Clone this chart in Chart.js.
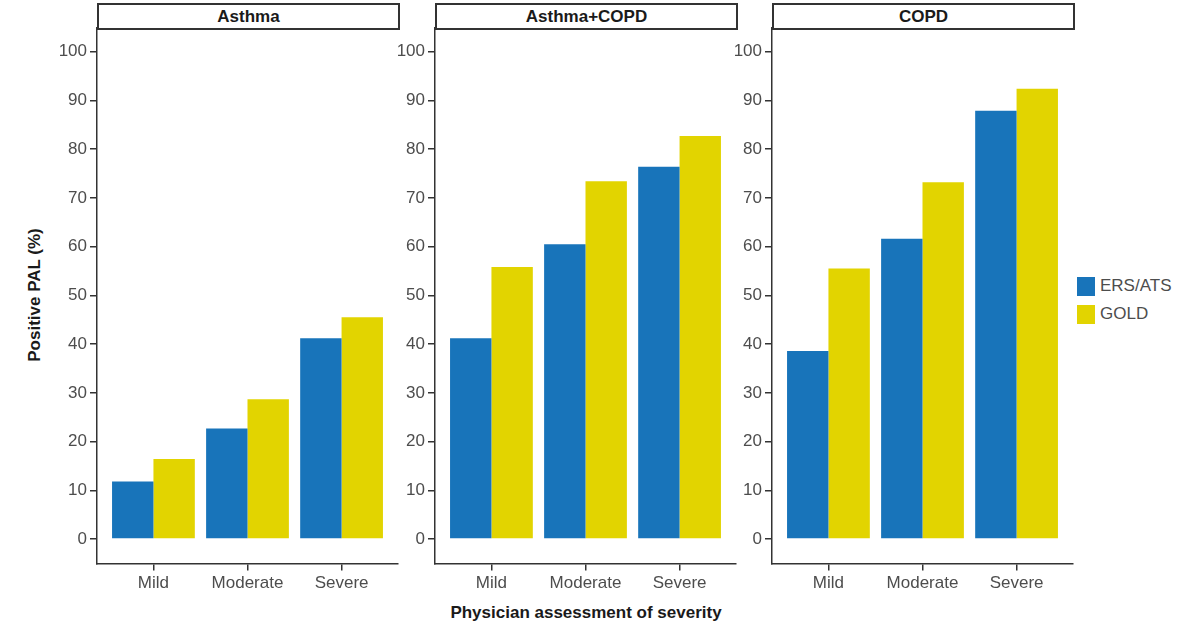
<!DOCTYPE html>
<html lang="en">
<head>
<meta charset="utf-8">
<title>Positive PAL by physician assessment of severity</title>
<script src="https://cdn.jsdelivr.net/npm/chart.js"></script>
<style>
    html, body { margin: 0; padding: 0; background: #fff; }
    body { width: 1200px; height: 628px; position: relative; overflow: hidden; font-family: "Liberation Sans", Arial, Helvetica, sans-serif; }
    canvas { position: absolute; top: 0; }
    .strip { position: absolute; top: 3px; height: 27px; box-sizing: border-box; border: 2px solid #333; background: #fff;
             font-weight: bold; font-size: 17px; color: #1a1a1a; text-align: center; line-height: 23px; }
    .ytitle { position: absolute; left: 35px; top: 295px; transform: translate(-50%, -50%) rotate(-90deg); white-space: nowrap;
              font-weight: bold; font-size: 17px; color: #1a1a1a; }
    .xtitle { position: absolute; left: 586px; top: 613px; transform: translate(-50%, -50%); white-space: nowrap;
              font-weight: bold; font-size: 17px; color: #1a1a1a; }
    .legend { position: absolute; left: 1077px; top: 272px; }
    .legend div { height: 28px; display: flex; align-items: center; font-size: 17px; color: #4d4d4d; }
    .legend span { display: inline-block; width: 18px; height: 19px; margin-right: 5px; }
</style>
</head>
<body>
<div class="ytitle">Positive PAL (%)</div>
<div class="xtitle">Physician assessment of severity</div>
<div class="legend" id="legend"></div>

<script>
    // values (percent)
    const categories = ['Mild', 'Moderate', 'Severe'];
    const panelNames = ['Asthma', 'Asthma+COPD', 'COPD'];
    const seriesNames = ['ERS/ATS', 'GOLD'];
    const ersAtsAsthma = [11.8, 22.7, 41.2];
    const goldAsthma = [16.4, 28.7, 45.5];
    const ersAtsMixed = [41.2, 60.5, 76.4];
    const goldMixed = [55.8, 73.4, 82.7];
    const ersAtsCopd = [38.6, 61.6, 87.9];
    const goldCopd = [55.5, 73.2, 92.4];
    const yTicks = [0, 10, 20, 30, 40, 50, 60, 70, 80, 90, 100];

    const colors = ['#1874ba', '#e2d400'];
    const panelData = [
        [ersAtsAsthma, goldAsthma],
        [ersAtsMixed, goldMixed],
        [ersAtsCopd, goldCopd]
    ];
    const panelLeft = [97, 435, 772];
    const panelWidth = 301;
    const yAxisWidth = 60;
    const font = { family: '"Liberation Sans", Arial, Helvetica, sans-serif', size: 17 };

    const legend = document.getElementById('legend');
    seriesNames.forEach((name, i) => {
        const row = document.createElement('div');
        row.innerHTML = '<span style="background:' + colors[i] + '"></span>' + name;
        legend.appendChild(row);
    });

    panelNames.forEach((name, p) => {
        const canvas = document.createElement('canvas');
        canvas.width = yAxisWidth + panelWidth + 10;
        canvas.height = 628;
        canvas.style.left = (panelLeft[p] - yAxisWidth) + 'px';
        document.body.appendChild(canvas);

        const strip = document.createElement('div');
        strip.className = 'strip';
        strip.style.left = panelLeft[p] + 'px';
        strip.style.width = (panelWidth + 2) + 'px';
        strip.textContent = name;
        document.body.appendChild(strip);

        const grid = { offset: false, drawOnChartArea: false, drawTicks: true, tickLength: 7, color: '#333', lineWidth: 1.5 };
        const border = { display: true, color: '#333', width: 1.5 };

        new Chart(canvas.getContext('2d'), {
            type: 'bar',
            data: {
                datasets: panelData[p].map((vals, s) => ({
                    label: seriesNames[s],
                    data: vals.map((v, i) => ({ x: i + 1, y: v })),
                    backgroundColor: colors[s],
                    borderWidth: 0,
                    categoryPercentage: 0.88,
                    barPercentage: 1.0
                }))
            },
            options: {
                responsive: false,
                animation: false,
                layout: { padding: { top: 27.3, bottom: 24.6, left: 0, right: 10 } },
                plugins: { legend: { display: false }, tooltip: { enabled: false } },
                scales: {
                    x: {
                        type: 'linear',
                        min: 0.4,
                        max: 3.6,
                        offset: false,
                        afterBuildTicks: s => { s.ticks = categories.map((c, i) => ({ value: i + 1 })); },
                        afterFit: s => { s.height = 40; },
                        ticks: { callback: v => categories[v - 1], font: font, color: '#4d4d4d', padding: 3, maxRotation: 0, autoSkip: false },
                        grid: grid,
                        border: border
                    },
                    y: {
                        min: -5,
                        max: 105,
                        afterBuildTicks: s => { s.ticks = yTicks.map(v => ({ value: v })); },
                        afterFit: s => { s.width = yAxisWidth; },
                        ticks: { font: font, color: '#4d4d4d', padding: 3 },
                        grid: { ...grid },
                        border: border
                    }
                }
            }
        });
    });
</script>
</body>
</html>
